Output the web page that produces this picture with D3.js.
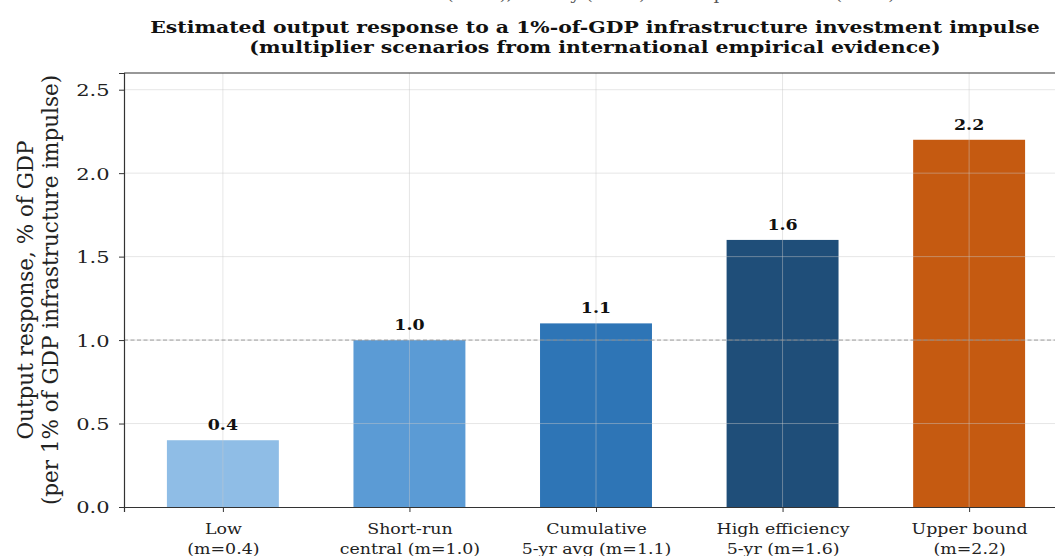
<!DOCTYPE html>
<html>
<head>
<meta charset="utf-8">
<script src="https://cdn.jsdelivr.net/npm/d3@7"></script>
<style>
  html, body { margin: 0; padding: 0; background: #fff; }
  svg { display: block; font-family: "DejaVu Serif", serif; }
</style>
</head>
<body>
<div id="chart"></div>
<script>
// scenario data
const scenarioLines = [
  ["Low", "(m=0.4)"],
  ["Short-run", "central (m=1.0)"],
  ["Cumulative", "5-yr avg (m=1.1)"],
  ["High efficiency", "5-yr (m=1.6)"],
  ["Upper bound", "(m=2.2)"]
];
const multipliers = [0.4, 1.0, 1.1, 1.6, 2.2];
const barColors = ["#8fbde6", "#5b9bd5", "#2e75b6", "#1f4e79", "#c55a11"];
const yTicks = [0.0, 0.5, 1.0, 1.5, 2.0, 2.5];
const titleLines = [
  "Estimated output response to a 1%-of-GDP infrastructure investment impulse",
  "(multiplier scenarios from international empirical evidence)"
];
const yLabelLines = [
  "Output response, % of GDP",
  "(per 1% of GDP infrastructure impulse)"
];
const refLine = 1.0;

const width = 1055, height = 556;
const margin = { top: 73, left: 124, bottom: 49 };
const plotRight = 1068;
const sx = 1.2; // the source figure is a bit wider than tall, text included

const svg = d3.select("#chart").append("svg")
    .attr("width", width)
    .attr("height", height);

const x = d3.scaleLinear()
    .domain([-0.53, multipliers.length - 1 + 0.53])
    .range([margin.left, plotRight]);
const y = d3.scaleLinear()
    .domain([0, 2.6])
    .range([height - margin.bottom, margin.top]);
const barW = x(0.6) - x(0);

const wide = (px, py) => `translate(${px},${py}) scale(${sx},1)`;

// clipped source line at very top
svg.append("text")
    .attr("transform", wide(616, -0.5))
    .attr("text-anchor", "middle")
    .attr("font-size", 15)
    .attr("fill", "#555")
    .text("Abiad et al. (2016), Ramey (2020) and Izquierdo et al. (2019)");

// bars
svg.append("g")
  .selectAll("rect")
  .data(multipliers)
  .join("rect")
    .attr("x", (d, i) => x(i) - barW / 2)
    .attr("y", d => y(d))
    .attr("width", barW)
    .attr("height", d => y(0) - y(d))
    .attr("fill", (d, i) => barColors[i]);

// grid on top of bars
const grid = svg.append("g")
    .attr("stroke", "#c8c8c8")
    .attr("stroke-opacity", 0.45)
    .attr("stroke-width", 1);
grid.selectAll(".gy")
  .data(yTicks.filter(t => t > 0))
  .join("line")
    .attr("x1", margin.left).attr("x2", plotRight)
    .attr("y1", d => y(d)).attr("y2", d => y(d));
grid.selectAll(".gx")
  .data(multipliers)
  .join("line")
    .attr("x1", (d, i) => x(i)).attr("x2", (d, i) => x(i))
    .attr("y1", margin.top).attr("y2", y(0));

// reference line at m = 1
svg.append("line")
    .attr("x1", margin.left).attr("x2", plotRight)
    .attr("y1", y(refLine)).attr("y2", y(refLine))
    .attr("stroke", "#888")
    .attr("stroke-opacity", 0.8)
    .attr("stroke-width", 1)
    .attr("stroke-dasharray", "4,2.5");

// value labels
svg.append("g")
  .selectAll("text")
  .data(multipliers)
  .join("text")
    .attr("transform", (d, i) => wide(x(i), y(d) - 10))
    .attr("text-anchor", "middle")
    .attr("font-size", 14.5)
    .attr("font-weight", "bold")
    .attr("fill", "#111")
    .text(d => d.toFixed(1));

// axes
const yAxis = svg.append("g")
    .attr("transform", `translate(${margin.left},0)`)
    .call(d3.axisLeft(y).tickValues(yTicks).tickFormat(d3.format(".1f")).tickSize(5));
const xAxis = svg.append("g")
    .attr("transform", `translate(0,${y(0)})`)
    .call(d3.axisBottom(x).tickValues(d3.range(multipliers.length)).tickFormat("").tickSize(5));

[yAxis, xAxis].forEach(a => {
  a.select(".domain").attr("stroke", "#333").attr("stroke-width", 1.2);
  a.selectAll(".tick line").attr("stroke", "#333");
});
yAxis.selectAll(".tick text")
    .attr("x", null)
    .attr("dy", "0.34em")
    .attr("transform", wide(-14.5, 0))
    .attr("font-family", "DejaVu Serif, serif")
    .attr("font-size", 17.5)
    .attr("fill", "#222");

// two-line category labels
xAxis.selectAll(".tick").each(function(d, i) {
  scenarioLines[i].forEach((s, k) => {
    d3.select(this).append("text")
        .attr("transform", wide(0, 27 + k * 19.5))
        .attr("fill", "#222")
        .attr("font-family", "DejaVu Serif, serif")
        .attr("font-size", 14.5)
        .attr("text-anchor", "middle")
        .text(s);
  });
});

// top spine
svg.append("line")
    .attr("x1", margin.left).attr("x2", plotRight)
    .attr("y1", margin.top).attr("y2", margin.top)
    .attr("stroke", "#333").attr("stroke-width", 1.2);

// y label
const yl = svg.append("text")
    .attr("transform", `translate(0,${(margin.top + y(0)) / 2}) rotate(-90)`)
    .attr("text-anchor", "middle")
    .attr("font-size", 21.5)
    .attr("fill", "#222");
yLabelLines.forEach((s, k) => {
  yl.append("tspan").attr("x", 0).attr("y", 33 + k * 25).text(s);
});

// title
titleLines.forEach((s, k) => {
  svg.append("text")
      .attr("transform", wide(595, 33 + k * 20))
      .attr("text-anchor", "middle")
      .attr("font-size", 17)
      .attr("font-weight", "bold")
      .attr("fill", "#111")
      .text(s);
});
</script>
</body>
</html>
